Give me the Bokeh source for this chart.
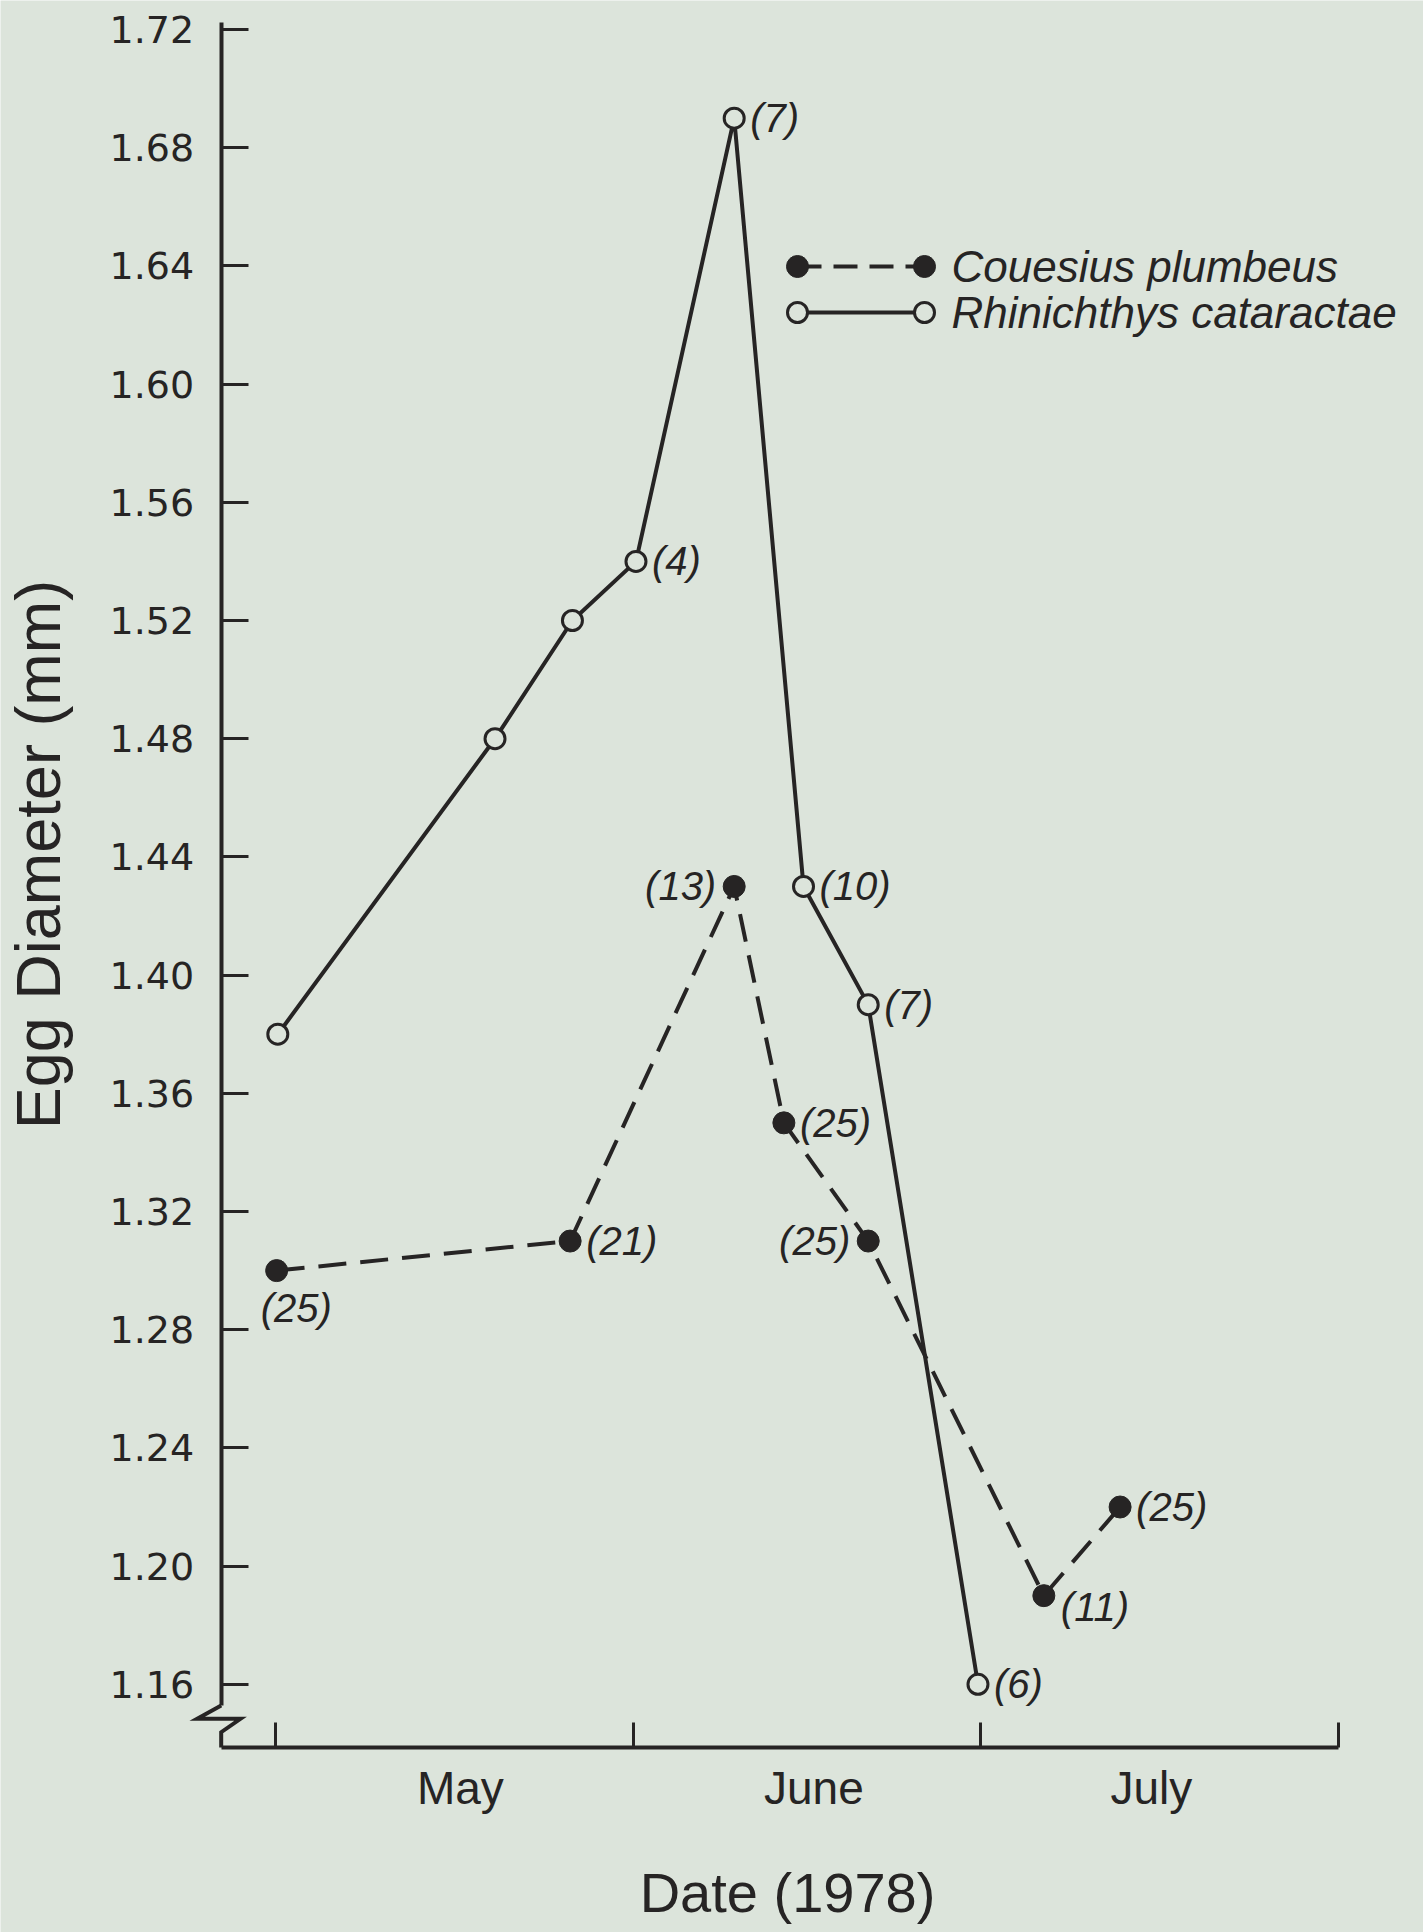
import math
from bokeh.plotting import figure
from bokeh.models import (FixedTicker, Range1d, ColumnDataSource, PrintfTickFormatter, Label)
from bokeh.core.properties import value
from bokeh.embed import file_html
from bokeh.resources import INLINE

# ---- data (x = days counted from 1 May 1978) ----
rhin_day = [0.2, 19.0, 25.7, 31.2, 39.7, 45.7, 51.3, 60.8]
rhin_diam = [1.38, 1.48, 1.52, 1.54, 1.69, 1.43, 1.39, 1.16]
rhin_n = ["", "", "", "(4)", "(7)", "(10)", "(7)", "(6)"]

cou_day = [0.1, 25.5, 39.7, 44.0, 51.3, 66.5, 73.1]
cou_diam = [1.30, 1.31, 1.43, 1.35, 1.31, 1.19, 1.22]
cou_n = ["(25)", "(21)", "(13)", "(25)", "(25)", "(11)", "(25)"]

month_bounds = [0, 31, 61, 92]
month_names = ["May", "June", "July"]
month_centers = [16.0, 46.6, 75.8]
y_ticks = [1.16, 1.20, 1.24, 1.28, 1.32, 1.36, 1.40, 1.44, 1.48, 1.52, 1.56, 1.60, 1.64, 1.68, 1.72]

species = ["Couesius plumbeus", "Rhinichthys cataractae"]
x_title = "Date (1978)"
y_title = "Egg Diameter (mm)"

# label placement (styles, not data)
rhin_side = ["r", "r", "r", "r", "r", "r", "r", "r"]
cou_side = ["below", "r", "l", "r", "l", "below_r", "r"]

INK = "#262424"
BG = "#dce4db"

W, H = 1423, 1932
PPD = 11.554          # px per day
DAY0_PX = 275         # px of 1 May
PPV = 118.2 / 0.04    # px per mm
TOP_PX = 29           # px of the 1.72 tick
TOP_V = 1.72

X0 = -DAY0_PX / PPD
X1 = (W - DAY0_PX) / PPD
Y1 = TOP_V + TOP_PX / PPV
Y0 = TOP_V - (H - TOP_PX) / PPV


def dx(px):  # canvas px -> data x (decoration helper)
    return X0 + px / PPD


def dy(py):  # canvas py -> data y (decoration helper)
    return Y1 - py / PPV


AXIS_X = dx(220.7)
AXIS_Y = dy(1747)

p = figure(width=W, height=H, x_range=Range1d(X0, X1), y_range=Range1d(Y0, Y1),
           output_backend="svg", toolbar_location=None,
           min_border_left=0, min_border_right=0, min_border_top=0, min_border_bottom=0)
p.background_fill_color = BG
p.border_fill_color = BG
p.outline_line_color = None
p.grid.visible = False

# ---- y axis ----
ya = p.yaxis[0]
ya.fixed_location = AXIS_X
ya.ticker = FixedTicker(ticks=y_ticks)
ya.formatter = PrintfTickFormatter(format="%.2f")
ya.bounds = (dy(1705), dy(22))
ya.major_tick_in = 27
ya.major_tick_out = 0
ya.minor_tick_line_color = None
ya.axis_line_color = INK
ya.axis_line_width = 4
ya.major_tick_line_color = INK
ya.major_tick_line_width = 3
ya.major_label_standoff = 27
ya.major_label_text_font = "DejaVu Sans"
ya.major_label_text_font_size = "38px"
ya.major_label_text_color = INK

# y title
p.add_layout(Label(x=dx(37), y=dy(854), text=y_title, angle=math.pi / 2,
                   text_align="center", text_baseline="middle", text_font="Liberation Sans",
                   text_font_size="63px", text_color=INK))

# ---- x axis: month names (major) and month boundary ticks (minor) ----
xa = p.xaxis[0]
xa.fixed_location = AXIS_Y
xa.ticker = FixedTicker(ticks=month_centers, minor_ticks=month_bounds)
xa.major_label_overrides = {c: n for c, n in zip(month_centers, month_names)}
xa.bounds = (AXIS_X, month_bounds[-1])
xa.axis_line_color = INK
xa.axis_line_width = 4
xa.major_tick_line_color = None
xa.major_tick_in = 0
xa.major_tick_out = 0
xa.minor_tick_line_color = INK
xa.minor_tick_line_width = 3
xa.minor_tick_in = 25
xa.minor_tick_out = 0
xa.major_label_standoff = 14
xa.major_label_text_font = "Liberation Sans"
xa.major_label_text_font_size = "46px"
xa.major_label_text_color = INK

# x title, centred under the drawn axis
p.add_layout(Label(x=dx(787), y=dy(1892), text=x_title, text_align="center",
                   text_baseline="middle", text_font="Liberation Sans",
                   text_font_size="56px", text_color=INK))

# axis break zig-zag (decoration)
zx = [220.7, 196.7, 240, 220.7, 220.7]
zy = [1705, 1718.3, 1718.3, 1731.7, 1747]
p.line([dx(v) for v in zx], [dy(v) for v in zy], line_color=INK, line_width=4,
       line_join="miter")

# ---- series ----
p.line(cou_day, cou_diam, line_color=INK, line_width=4, line_dash="28 14")
p.line(rhin_day, rhin_diam, line_color=INK, line_width=4)
p.scatter(cou_day, cou_diam, size=22, marker="circle", fill_color=INK, line_color=INK, line_width=1)
p.scatter(rhin_day, rhin_diam, size=20, marker="circle", fill_color=BG, line_color=INK, line_width=3)


def label_style(sides):
    xo, yo, al = [], [], []
    for s in sides:
        if s == "r":
            xo.append(16); yo.append(0); al.append("left")
        elif s == "l":
            xo.append(-18); yo.append(0); al.append("right")
        elif s == "below":
            xo.append(-16); yo.append(37); al.append("left")
        else:
            xo.append(17); yo.append(11); al.append("left")
    return xo, yo, al


for days, vals, ns, sides in [(rhin_day, rhin_diam, rhin_n, rhin_side),
                              (cou_day, cou_diam, cou_n, cou_side)]:
    xo, yo, al = label_style(sides)
    keep = [i for i, t in enumerate(ns) if t]
    src = ColumnDataSource(dict(x=[days[i] for i in keep], y=[vals[i] for i in keep],
                                t=[ns[i] for i in keep], xo=[xo[i] for i in keep],
                                yo=[yo[i] for i in keep], al=[al[i] for i in keep]))
    p.text(x="x", y="y", text="t", x_offset="xo", y_offset="yo", text_align="al",
           text_baseline="middle", source=src, text_font=value("Liberation Sans"),
           text_font_style="italic", text_font_size="40px", text_color=INK)

# ---- legend (drawn by hand: markers at both ends) ----
leg_y = [dy(266), dy(312)]
lx0, lx1, ltx = dx(797), dx(924), dx(951)
p.line([lx0, lx1], [leg_y[0], leg_y[0]], line_color=INK, line_width=4, line_dash="24 12")
p.line([lx0, lx1], [leg_y[1], leg_y[1]], line_color=INK, line_width=4)
p.scatter([lx0, lx1], [leg_y[0], leg_y[0]], size=22, fill_color=INK, line_color=INK)
p.scatter([lx0, lx1], [leg_y[1], leg_y[1]], size=20, fill_color=BG, line_color=INK, line_width=3)
p.text(x=[ltx, ltx], y=leg_y, text=species, text_baseline="middle", text_align="left",
       text_font=value("Liberation Sans"), text_font_style="italic", text_font_size="44px",
       text_color=INK)

open("out.html", "w").write(file_html(p, INLINE))
